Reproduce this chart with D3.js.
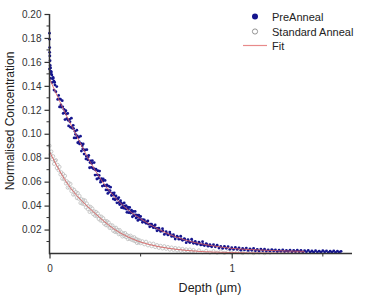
<!DOCTYPE html>
<html><head><meta charset="utf-8">
<script src="https://cdn.jsdelivr.net/npm/d3@7/dist/d3.min.js"></script>
<style>body{margin:0;background:#fff}svg{display:block;font-family:"Liberation Sans",Arial,sans-serif}</style>
</head><body><svg id="c" width="372" height="295"></svg>
<script>
// ---- data (depth in µm, normalised concentration) ----
const seriesNames = ["PreAnneal", "Standard Anneal", "Fit"];
const yTickValues = [0.02,0.04,0.06,0.08,0.10,0.12,0.14,0.16,0.18,0.20];
const xTickValues = [0, 1];

const preAnneal = [
[0,.184],[0,.179],[0.001,.172],[0.001,.168],[0.002,.165],[0.003,.161],[0.004,.157],[0.006,.155],[0.008,.152],[0.01,.150],[0.013,.149],[0.016,.146],[0.02,.147],[0.024,.144],[0.028,.143],
[0,.154],[.005,.1463],[.01,.1516],[.015,.1429],[.02,.1462],[.025,.1365],[.03,.1408],[.035,.1351],[.04,.1394],[.045,.1287],[.05,.132],
[.055,.1224],[.06,.1288],[.065,.1222],[.07,.1276],[.075,.117],[.08,.1204],[.085,.1118],[.09,.1192],[.095,.1126],[.1,.117],
[.105,.1065],[.11,.112],[.115,.1055],[.12,.113],[.125,.1045],[.13,.107],[.135,.0965],[.14,.102],[.145,.0965],[.15,.103],
[.155,.0925],[.16,.097],[.165,.0915],[.17,.098],[.175,.0855],[.18,.090],[.185,.0915],[.19,.083],[.195,.0865],[.2,.079],
[.205,.0867],[.21,.0783],[.215,.082],[.22,.0716],[.225,.0773],[.23,.0719],[.235,.0776],[.24,.0712],[.245,.0759],[.25,.0655],
[.255,.0704],[.26,.0622],[.265,.0691],[.27,.0629],[.275,.0688],[.28,.0596],[.285,.0625],[.29,.0563],[.295,.0622],[.3,.057],
[.305,.061],[.31,.0531],[.315,.0572],[.32,.0502],[.325,.0563],[.33,.0513],[.335,.0554],[.34,.0484],[.345,.0505],[.35,.0455],
[.355,.0507],[.36,.0449],[.365,.0481],[.37,.0423],[.375,.0455],[.38,.0467],[.385,.0409],[.39,.0441],[.395,.0383],[.4,.0415],
[.405,.0379],[.41,.0422],[.415,.0376],[.42,.040],[.425,.0344],[.43,.0387],[.435,.0341],[.44,.0385],[.445,.0338],[.45,.0362],
[.455,.0307],[.46,.0352],[.465,.0316],[.47,.0351],[.475,.0296],[.48,.0321],[.485,.0276],[.49,.0321],[.495,.0285],[.5,.031],
[.51,.0261],[.52,.0281],[.53,.0252],[.54,.0272],[.55,.0223],[.56,.0245],[.57,.0216],[.58,.0238],[.59,.0189],[.6,.0211],
[.61,.0184],[.62,.0207],[.63,.0159],[.64,.0182],[.65,.0155],[.66,.0179],[.67,.0143],[.68,.0157],[.69,.0121],[.7,.0145],
[.71,.012],[.72,.0145],[.73,.011],[.74,.0125],[.75,.009],[.76,.0116],[.77,.0092],[.78,.0119],[.79,.0085],[.8,.0101],
[.81,.0078],[.82,.0095],[.83,.0072],[.84,.0099],[.85,.0066],[.86,.0083],[.87,.0061],[.88,.0073],[.89,.0056],[.9,.0073],
[.91,.0056],[.92,.0069],[.93,.0046],[.94,.0059],[.95,.0042],[.96,.006],[.97,.0043],[.98,.0057],[.99,.0035],[1,.0048],
[1.01,.0034],[1.02,.0051],[1.03,.0035],[1.04,.0047],[1.05,.0028],[1.06,.0042],[1.07,.003],[1.08,.0045],[1.09,.0026],[1.1,.0039],
[1.11,.0027],[1.12,.0042],[1.13,.0023],[1.14,.0035],[1.15,.002],[1.16,.0037],[1.17,.0024],[1.18,.0036],[1.19,.002],[1.2,.003],
[1.21,.002],[1.22,.0033],[1.23,.0021],[1.24,.003],[1.25,.0016],[1.26,.0028],[1.27,.0018],[1.28,.0031],[1.29,.0016],[1.3,.0025],
[1.31,.0017],[1.32,.0029],[1.33,.0014],[1.34,.0025],[1.35,.0015],[1.36,.0028],[1.37,.0015],[1.38,.0025],[1.39,.0012],[1.4,.0023],
[1.41,.0014],[1.42,.0026],[1.43,.0012],[1.44,.0021],[1.45,.0011],[1.46,.0024],[1.47,.0012],[1.48,.002],[1.49,.0011],[1.5,.0024],
[1.51,.0013],[1.52,.0022],[1.53,.001],[1.54,.0019],[1.55,.0011],[1.56,.0022],[1.57,.001],[1.58,.0019],[1.59,.0011],[1.6,.0018],
[.0525,.1292],[.0625,.124],[.0725,.1225],[.0825,.1176],[.0925,.1164],[.1025,.1112],[.1125,.110],[.1225,.1053],[.1325,.1043],[.1425,.0995],
[.1525,.0983],[.1625,.0935],[.1725,.092],[.1825,.0873],[.1925,.0863],[.2025,.0813],[.2125,.0805],[.2225,.076],[.2325,.0752],[.2425,.0706],
[.2525,.0698],[.2625,.0657],[.2725,.0652],[.2825,.0611],[.2925,.0606],[.3025,.0567],[.3125,.0563],[.3225,.0529],[.3325,.0525],[.3425,.049],
[.3525,.0488],[.3625,.0458],[.3725,.0456],[.3825,.0426],[.3925,.0423],[.4025,.0396],[.4125,.0395],[.4225,.037],[.4325,.0369],[.4425,.0346],
[.4525,.0344],[.4625,.0323],[.4725,.0323],[.4825,.0303],[.4925,.0302],[.5025,.0283],[.5125,.0283],[.5225,.0265],[.5325,.0263],[.5425,.0246],
[.5525,.0245],[.5625,.0229],[.5725,.0228],[.5825,.0212],[.5925,.021],[.6025,.0196],[.6225,.0188],[.6425,.0168],[.6625,.0161],[.6825,.0143],
[.7025,.0137],[.7225,.0121],[.7425,.0117],[.7625,.0102],[.7825,.01],[.8025,.0087],[.8225,.0087],[.8425,.0075],[.8625,.0076],[.8825,.0065]
];

const standardAnneal = [
[0,.090],[.005,.0826],[.01,.0851],[.015,.0787],[.02,.0812],[.025,.0748],[.03,.0773],[.035,.0779],[.04,.0714],[.045,.074],[.05,.0695],
[.055,.0723],[.06,.066],[.065,.0678],[.07,.0625],[.075,.0663],[.08,.062],[.085,.0648],[.09,.0585],[.095,.0603],[.1,.055],
[.105,.059],[.11,.0551],[.115,.0581],[.12,.0521],[.125,.0542],[.13,.0492],[.135,.0532],[.14,.0493],[.145,.0513],[.15,.0463],
[.155,.0505],[.16,.0457],[.165,.048],[.17,.0422],[.175,.0454],[.18,.0416],[.185,.0448],[.19,.0411],[.195,.0443],[.2,.0385],
[.205,.0418],[.21,.0371],[.215,.0394],[.22,.0347],[.225,.039],[.23,.0353],[.235,.0376],[.24,.0329],[.245,.0352],[.25,.0315],
[.255,.0348],[.26,.0311],[.265,.0335],[.27,.0288],[.275,.0311],[.28,.0275],[.285,.0308],[.29,.0271],[.295,.0295],[.3,.0248],
[.305,.0272],[.31,.0236],[.315,.027],[.32,.0234],[.325,.0259],[.33,.0213],[.335,.0237],[.34,.0211],[.345,.0235],[.35,.0189],
[.355,.0214],[.36,.018],[.365,.0215],[.37,.018],[.375,.0196],[.38,.0161],[.385,.0196],[.39,.0161],[.395,.0177],[.4,.0142],
[.405,.0168],[.41,.0145],[.415,.0171],[.42,.0137],[.425,.0154],[.43,.012],[.435,.0146],[.44,.0123],[.445,.0149],[.45,.0115],
[.455,.0132],[.46,.0109],[.465,.0136],[.47,.0103],[.475,.0121],[.48,.0088],[.485,.0115],[.49,.0092],[.495,.0109],[.5,.0086],
[.51,.0102],[.52,.0077],[.53,.0098],[.54,.0068],[.55,.0084],[.56,.0061],[.57,.0082],[.58,.0054],[.59,.007],[.6,.0047],
[.61,.0064],[.62,.0042],[.63,.0061],[.64,.0039],[.65,.0054],[.66,.0032],[.67,.005],[.68,.003],[.69,.0046],[.7,.0026],
[.71,.0042],[.72,.0023],[.73,.0038],[.74,.0021],[.75,.0034],[.76,.0018],[.77,.0033],[.78,.0016],[.79,.0029],[.8,.0014],
[.82,.0026],[.84,.0011],[.86,.0022],[.88,.0008],[.9,.0019],[.92,.0007],[.94,.0016],[.96,.0005],[.98,.0015],[1,.0005],
[1.03,.0012],[1.06,.0004],[1.09,.001],[1.12,.0003],[1.15,.0009],[1.18,.0003],[1.21,.0008]
];

const preAnnealFit = [
[0,.146],[.05,.129],[.1,.113],[.15,.098],[.2,.083],[.25,.0695],[.3,.058],[.35,.0485],[.4,.0405],[.45,.0342],[.5,.029],
[.55,.0243],[.6,.0201],[.65,.0165],[.7,.0135],[.75,.011],[.8,.0091],[.85,.0076],[.9,.0063],[.95,.0052],[1,.0043],
[1.1,.0033],[1.2,.0026],[1.3,.0021],[1.4,.0018]
];

const standardAnnealFit = [
[0,.085],[.05,.0705],[.1,.058],[.15,.0483],[.2,.0405],[.25,.0335],[.3,.0268],[.35,.0209],[.4,.0162],[.45,.0125],[.5,.0096],
[.55,.0074],[.6,.0057],[.65,.0044],[.7,.0034],[.75,.0026],[.8,.002],[.85,.0015],[.9,.0012],[1,.0008],[1.1,.0005],
[1.2,.0004],[1.3,.0003],[1.4,.0003]
];

// ---- drawing ----
const svg = d3.select("#c");
const font = '"Liberation Sans", Arial, sans-serif';
const axisColor = "#333";

const x = d3.scaleLinear().domain([0, 1.66]).range([49.5, 352]);
const y = d3.scaleLinear().domain([0, 0.2]).range([253.5, 14]);

const plot = svg.append("g");

// Standard Anneal: open grey circles
plot.append("g").selectAll("circle").data(standardAnneal).join("circle")
  .attr("cx", d => x(d[0])).attr("cy", d => y(d[1])).attr("r", 1.6)
  .attr("fill", "none").attr("stroke", "#bdbdbd").attr("stroke-width", 0.8);

// PreAnneal: filled navy dots
plot.append("g").selectAll("circle").data(preAnneal).join("circle")
  .attr("cx", d => x(d[0])).attr("cy", d => y(d[1])).attr("r", 1.4)
  .attr("fill", "#15158e");

// Fits
const line = d3.line().x(d => x(d[0])).y(d => y(d[1])).curve(d3.curveMonotoneX);
[preAnnealFit, standardAnnealFit].forEach(f => {
  plot.append("path").attr("d", line(f)).attr("fill", "none")
    .attr("stroke", "#e05a5a").attr("stroke-width", 1).attr("opacity", 0.8);
});

// ---- axes ----
const yAxis = d3.axisLeft(y).tickValues(yTickValues).tickSize(5).tickPadding(3)
  .tickFormat(d3.format(".2f"));
const gy = svg.append("g").attr("transform", "translate(49.5,0)").call(yAxis);
gy.select(".domain").remove();
gy.selectAll(".tick line").attr("stroke", axisColor).attr("stroke-width", 1.2);
gy.selectAll(".tick text").attr("font-family", font).attr("font-size", 10).attr("fill", "#333");

// y minor ticks
const yMinor = d3.range(1, 20, 2).map(i => i / 100);
svg.append("g").selectAll("line").data(yMinor).join("line")
  .attr("x1", 46.5).attr("x2", 49.5).attr("y1", d => y(d)).attr("y2", d => y(d))
  .attr("stroke", axisColor).attr("stroke-width", 1);

svg.append("line").attr("x1", 49.5).attr("x2", 49.5).attr("y1", y(0.2)).attr("y2", y(0) + 0.75)
  .attr("stroke", axisColor).attr("stroke-width", 1.5);

const xAxis = d3.axisBottom(x).tickValues(xTickValues).tickSize(5).tickPadding(6)
  .tickFormat(d3.format("d"));
const gx = svg.append("g").attr("transform", `translate(0,${y(0)})`).call(xAxis);
gx.select(".domain").remove();
gx.selectAll(".tick line").attr("stroke", axisColor).attr("stroke-width", 1.2);
gx.selectAll(".tick text").attr("font-family", font).attr("font-size", 10).attr("fill", "#333");

const xMinor = [0.5, 1.5];
svg.append("g").selectAll("line").data(xMinor).join("line")
  .attr("x1", d => x(d)).attr("x2", d => x(d)).attr("y1", y(0)).attr("y2", y(0) + 3)
  .attr("stroke", axisColor).attr("stroke-width", 1);

svg.append("line").attr("x1", 49).attr("x2", 352).attr("y1", y(0)).attr("y2", y(0))
  .attr("stroke", axisColor).attr("stroke-width", 1.5);

// titles
svg.append("text").attr("x", 210).attr("y", 292).attr("text-anchor", "middle")
  .attr("font-family", font).attr("font-size", 12.5).attr("fill", "#222").text("Depth (µm)");
svg.append("text").attr("transform", "translate(14,121) rotate(-90)").attr("text-anchor", "middle")
  .attr("font-family", font).attr("font-size", 12).attr("fill", "#222").text("Normalised Concentration");

// legend
const lg = svg.append("g").attr("font-family", font).attr("font-size", 11).attr("fill", "#222");
lg.append("circle").attr("cx", 255).attr("cy", 16.5).attr("r", 3).attr("fill", "#15158e");
lg.append("circle").attr("cx", 255).attr("cy", 31.5).attr("r", 2.6).attr("fill", "#fff")
  .attr("stroke", "#888").attr("stroke-width", 0.9);
lg.append("line").attr("x1", 243).attr("x2", 267).attr("y1", 45.5).attr("y2", 45.5)
  .attr("stroke", "#e88a8a").attr("stroke-width", 1.2);
const ly = [20.5, 35.5, 49.5];
seriesNames.forEach((s, i) => lg.append("text").attr("x", 272).attr("y", ly[i]).text(s));
</script></body></html>
